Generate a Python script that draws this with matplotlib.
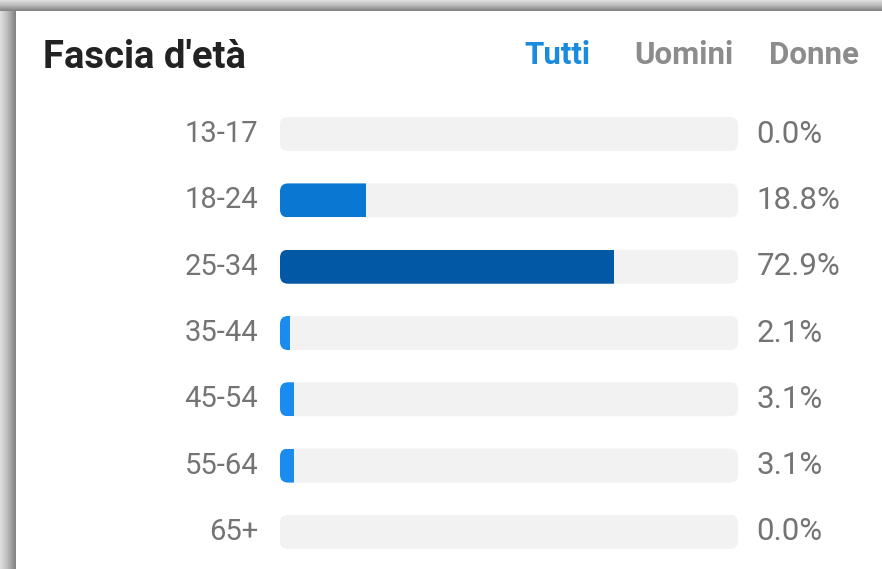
import matplotlib.pyplot as plt
from matplotlib.patches import FancyBboxPatch, Rectangle
import numpy as np

# dati
fasce = ['13-17', '18-24', '25-34', '35-44', '45-54', '55-64', '65+']
percentuali = [0.0, 18.8, 72.9, 2.1, 3.1, 3.1, 0.0]
colori = ['#1a8cf0', '#0a78d2', '#0358a5', '#1a8cf0', '#1a8cf0', '#1a8cf0', '#1a8cf0']
schede = ['Tutti', 'Uomini', 'Donne']

W, H = 882, 569
fig = plt.figure(figsize=(W / 100, H / 100), dpi=100)
fig.patch.set_facecolor('white')

# sfondo con ombra della card
bg = fig.add_axes([0, 0, 1, 1])
bg.axis('off')
grad_x = np.linspace(0, 1, 50)[None, :]
bg.imshow(grad_x, extent=(0, 16, H, 0), cmap='Greys', vmin=-0.6, vmax=2.2,
          aspect='auto', zorder=0)
grad_y = np.linspace(0, 1, 50)[:, None]
bg.imshow(grad_y, extent=(0, W, 11, 0), cmap='Greys', vmin=-0.6, vmax=2.2,
          aspect='auto', zorder=0)
bg.set_xlim(0, W)
bg.set_ylim(H, 0)

# titolo e schede
bg.text(43, 57, "Fascia d'età", fontsize=27.5, fontweight='bold',
        family='Roboto', color='#222222', va='center', ha='left')
bg.text(524, 55, schede[0], fontsize=22.5, fontweight='bold', family='Roboto',
        color='#1a8ce0', va='center', ha='left')
bg.text(733, 55, schede[1], fontsize=22.5, fontweight='bold', family='Roboto',
        color='#8c8c8c', va='center', ha='right')
bg.text(859, 55, schede[2], fontsize=22.5, fontweight='bold', family='Roboto',
        color='#8c8c8c', va='center', ha='right')

# area barre
x0, x1 = 280, 738
y_top, y_bot = 101, 565
ax = fig.add_axes([x0 / W, 1 - y_bot / H, (x1 - x0) / W, (y_bot - y_top) / H])
n = len(fasce)
ax.set_xlim(0, 100)
ax.set_ylim(n - 0.5, -0.5)
ax.axis('off')

px_x = (x1 - x0) / 100
px_y = (y_bot - y_top) / n
asp = px_x / px_y
h = 34 / px_y
r = 8 / px_x

for i, (fascia, val, col) in enumerate(zip(fasce, percentuali, colori)):
    track = FancyBboxPatch((0, i - h / 2), 100, h,
                           boxstyle=f'round,pad=0,rounding_size={r}',
                           mutation_aspect=asp, facecolor='#f2f2f2',
                           edgecolor='none')
    ax.add_patch(track)
    if val > 0:
        barra = FancyBboxPatch((0, i - h / 2), 100, h,
                               boxstyle=f'round,pad=0,rounding_size={r}',
                               mutation_aspect=asp, facecolor=col,
                               edgecolor='none')
        ax.add_patch(barra)
        clip = Rectangle((0, i - h / 2), val, h, transform=ax.transData)
        barra.set_clip_path(clip)
    ax.text(-4.8, i, fascia, ha='right', va='center', fontsize=21,
            family='Roboto', color='#747474', clip_on=False)
    ax.text(104.0, i, f'{val:.1f}%', ha='left', va='center', fontsize=22.5,
            family='Roboto', color='#747474', clip_on=False)

fig.savefig('out.png', dpi=100)
